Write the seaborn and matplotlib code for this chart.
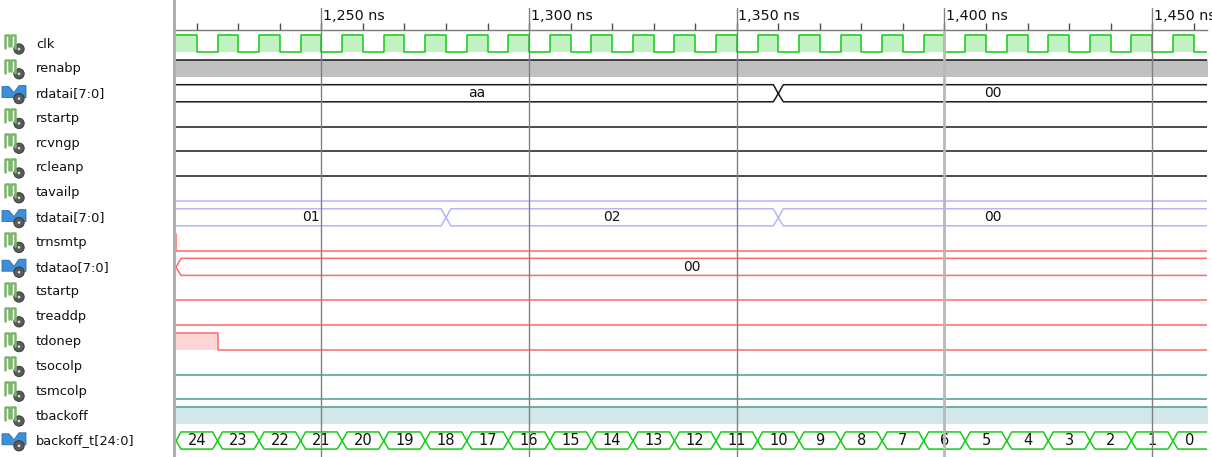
import numpy as np
import pandas as pd
import matplotlib
matplotlib.use("Agg")
import matplotlib.pyplot as plt
import seaborn as sns
from matplotlib.lines import Line2D
from matplotlib.patches import Circle, Polygon
from matplotlib.ticker import MultipleLocator
import matplotlib.transforms as mtransforms

# nombres de las señales (orden de arriba a abajo)
names = ["clk", "renabp", "rdatai[7:0]", "rstartp", "rcvngp", "rcleanp", "tavailp",
         "tdatai[7:0]", "trnsmtp", "tdatao[7:0]", "tstartp", "treaddp", "tdonep",
         "tsocolp", "tsmcolp", "tbackoff", "backoff_t[24:0]"]

# reloj: tiempos de flanco (ns) y nivel
clk_t = [1215, 1220, 1225, 1230, 1235, 1240, 1245, 1250, 1255, 1260, 1265, 1270, 1275,
         1280, 1285, 1290, 1295, 1300, 1305, 1310, 1315, 1320, 1325, 1330, 1335, 1340,
         1345, 1350, 1355, 1360, 1365, 1370, 1375, 1380, 1385, 1390, 1395, 1400, 1405,
         1410, 1415, 1420, 1425, 1430, 1435, 1440, 1445, 1450, 1455, 1460]
clk_v = [1, 0, 1, 0, 1, 0, 1, 0, 1, 0, 1, 0, 1, 0, 1, 0, 1, 0, 1, 0, 1, 0, 1, 0, 1,
         0, 1, 0, 1, 0, 1, 0, 1, 0, 1, 0, 1, 0, 1, 0, 1, 0, 1, 0, 1, 0, 1, 0, 1, 0]

renabp_t = [1200]; renabp_v = [1]
rstartp_t = [1200]; rstartp_v = [0]
rcvngp_t = [1200]; rcvngp_v = [0]
rcleanp_t = [1200]; rcleanp_v = [0]
tavailp_t = [1200]; tavailp_v = [0]
trnsmtp_t = [1205, 1215]; trnsmtp_v = [1, 0]
tstartp_t = [1200]; tstartp_v = [0]
treaddp_t = [1200]; treaddp_v = [0]
tdonep_t = [1215, 1225]; tdonep_v = [1, 0]
tsocolp_t = [1200]; tsocolp_v = [0]
tsmcolp_t = [1200]; tsmcolp_v = [0]
tbackoff_t = [1215]; tbackoff_v = [1]

# buses
rdatai_t = [1200, 1360]; rdatai_v = ["aa", "00"]
tdatai_t = [1200, 1280, 1360]; tdatai_v = ["01", "02", "00"]
tdatao_t = [1215]; tdatao_v = ["00"]
backoff_t_t = [1215, 1225, 1235, 1245, 1255, 1265, 1275, 1285, 1295, 1305, 1315, 1325, 1335,
               1345, 1355, 1365, 1375, 1385, 1395, 1405, 1415, 1425, 1435, 1445, 1455]
backoff_t_v = ["24", "23", "22", "21", "20", "19", "18", "17", "16", "15", "14", "13", "12",
               "11", "10", "9", "8", "7", "6", "5", "4", "3", "2", "1", "0"]

major_t = [1250, 1300, 1350, 1400, 1450]
major_lab = ["1,250 ns", "1,300 ns", "1,350 ns", "1,400 ns", "1,450 ns"]

T0, T1, T_END = 1215, 1463.2, 1475
HI, LO = -0.36, 0.33

BLACK = "#1a1a1a"
GREEN = "#14cc14"
RED = "#ff6a6a"
LAV = "#b4b4ff"
TEAL = "#4a9c94"

# señal digital: (fila, tiempos, valores, color de línea, relleno)
digital = [
    (0, clk_t, clk_v, GREEN, "#c2f2c2"),
    (1, renabp_t, renabp_v, BLACK, "#c0c0c0"),
    (3, rstartp_t, rstartp_v, BLACK, None),
    (4, rcvngp_t, rcvngp_v, BLACK, None),
    (5, rcleanp_t, rcleanp_v, BLACK, None),
    (6, tavailp_t, tavailp_v, LAV, None),
    (8, trnsmtp_t, trnsmtp_v, RED, "#ffd6d6"),
    (10, tstartp_t, tstartp_v, RED, None),
    (11, treaddp_t, treaddp_v, RED, None),
    (12, tdonep_t, tdonep_v, RED, "#ffd6d6"),
    (13, tsocolp_t, tsocolp_v, TEAL, None),
    (14, tsmcolp_t, tsmcolp_v, TEAL, None),
    (15, tbackoff_t, tbackoff_v, TEAL, "#d2e8e8"),
]
buses = [
    (2, rdatai_t, rdatai_v, BLACK, 10),
    (7, tdatai_t, tdatai_v, LAV, 10),
    (9, tdatao_t, tdatao_v, RED, 10),
    (16, backoff_t_t, backoff_t_v, GREEN, 10.5),
]

sns.set_style("white")
plt.rcParams["font.family"] = ["DejaVu Sans"]

W, H = 1212, 457
fig = plt.figure(figsize=(W / 100, H / 100), dpi=100)
ax = fig.add_axes([176 / W, 0, (1207 - 176) / W, (H - 30) / H])

for row, t, v, col, fill in digital:
    tt = list(t) + [T_END]
    vv = list(v) + [v[-1]]
    yy = [row + (HI if x == 1 else LO) for x in vv]
    df = pd.DataFrame({"t": tt, "y": yy})
    if fill:
        ax.fill_between(df.t, row + LO, df.y, step="post", color=fill, lw=0, zorder=1)
    sns.lineplot(data=df, x="t", y="y", drawstyle="steps-post", estimator=None,
                 color=col, lw=1.1, ax=ax, zorder=2)

d = 1.2
for row, t, v, col, fs in buses:
    ends = list(t[1:]) + [T_END]
    for s, e, lab in zip(t, ends, v):
        px = [s, s + d, e - d, e, e - d, s + d, s]
        py = [row, row + HI, row + HI, row, row + LO, row + LO, row]
        sns.lineplot(x=px, y=py, sort=False, estimator=None, color=col, lw=1.1, ax=ax, zorder=2)
        xm = (max(s, T0) + min(e, T1)) / 2
        ax.text(xm, row - 0.02, lab, ha="center", va="center", fontsize=fs, color="#111111", zorder=3)

ax.set_xlim(T0, T1)
ax.set_ylim(16.65, -0.565)
ax.set_yticks([])
ax.xaxis.tick_top()
ax.set_xticks([])
ax.xaxis.set_minor_locator(MultipleLocator(10))
ax.tick_params(axis="x", which="minor", top=True, direction="out", length=5, width=1, color="#505050")
ax.set_xlabel("")
ax.set_ylabel("")
for sp in ["left", "right", "bottom"]:
    ax.spines[sp].set_visible(False)
ax.spines["top"].set_color("#7a7a7a")
ax.spines["top"].set_linewidth(1)

trans = mtransforms.blended_transform_factory(ax.transData, ax.transAxes)
top_frac = (H - 8) / (H - 30)
for tm, lab in zip(major_t, major_lab):
    if tm == 1400:
        ax.axvline(tm, ymin=0, ymax=1, color="#b8b8b8", lw=2, zorder=5)
        ax.axvline(tm, ymin=1, ymax=top_frac, color="#808080", lw=1, zorder=5, clip_on=False)
    else:
        ax.axvline(tm, ymin=0, ymax=top_frac, color="#808080", lw=1, zorder=5, clip_on=False)
    ax.text(tm + 0.4, (H - 16) / (H - 30), lab, transform=trans, ha="left", va="center",
            fontsize=10.3, color="#111111", clip_on=False)

# separador entre nombres y formas de onda
fig.add_artist(Line2D([173.5 / W] * 2, [0, 1], color="#a8a8a8", lw=2))

# panel de nombres con iconos
axl = fig.add_axes([0, 0, 172 / W, 1])
axl.set_xlim(0, 172)
axl.set_ylim(H, 0)
axl.axis("off")
for i, nm in enumerate(names):
    c = 44 + 24.8 * i
    if "[" in nm:
        axl.add_patch(Polygon([(2, c - 7), (9, c - 7), (14, c - 1), (19, c - 8), (26, c - 8),
                               (26, c + 4), (2, c + 4)], closed=True, fc="#3f8fd8", ec="#2a6fb0", lw=0.6))
    else:
        axl.plot([5, 5, 9, 9], [c + 4, c - 9, c - 9, c + 2], color="#7ab56a", lw=1.8)
        axl.plot([11, 11, 15, 15], [c + 2, c - 9, c - 9, c + 4], color="#7ab56a", lw=1.8)
    axl.add_patch(Circle((19, c + 5), 5.2, fc="#5a5a5a", ec="#333333", lw=0.6))
    axl.add_patch(Circle((19, c + 5), 1.3, fc="#e0e0e0", ec="none"))
    axl.text(36, c, nm, ha="left", va="center", fontsize=9.4, color="#111111")

fig.savefig("out.png", dpi=100)
